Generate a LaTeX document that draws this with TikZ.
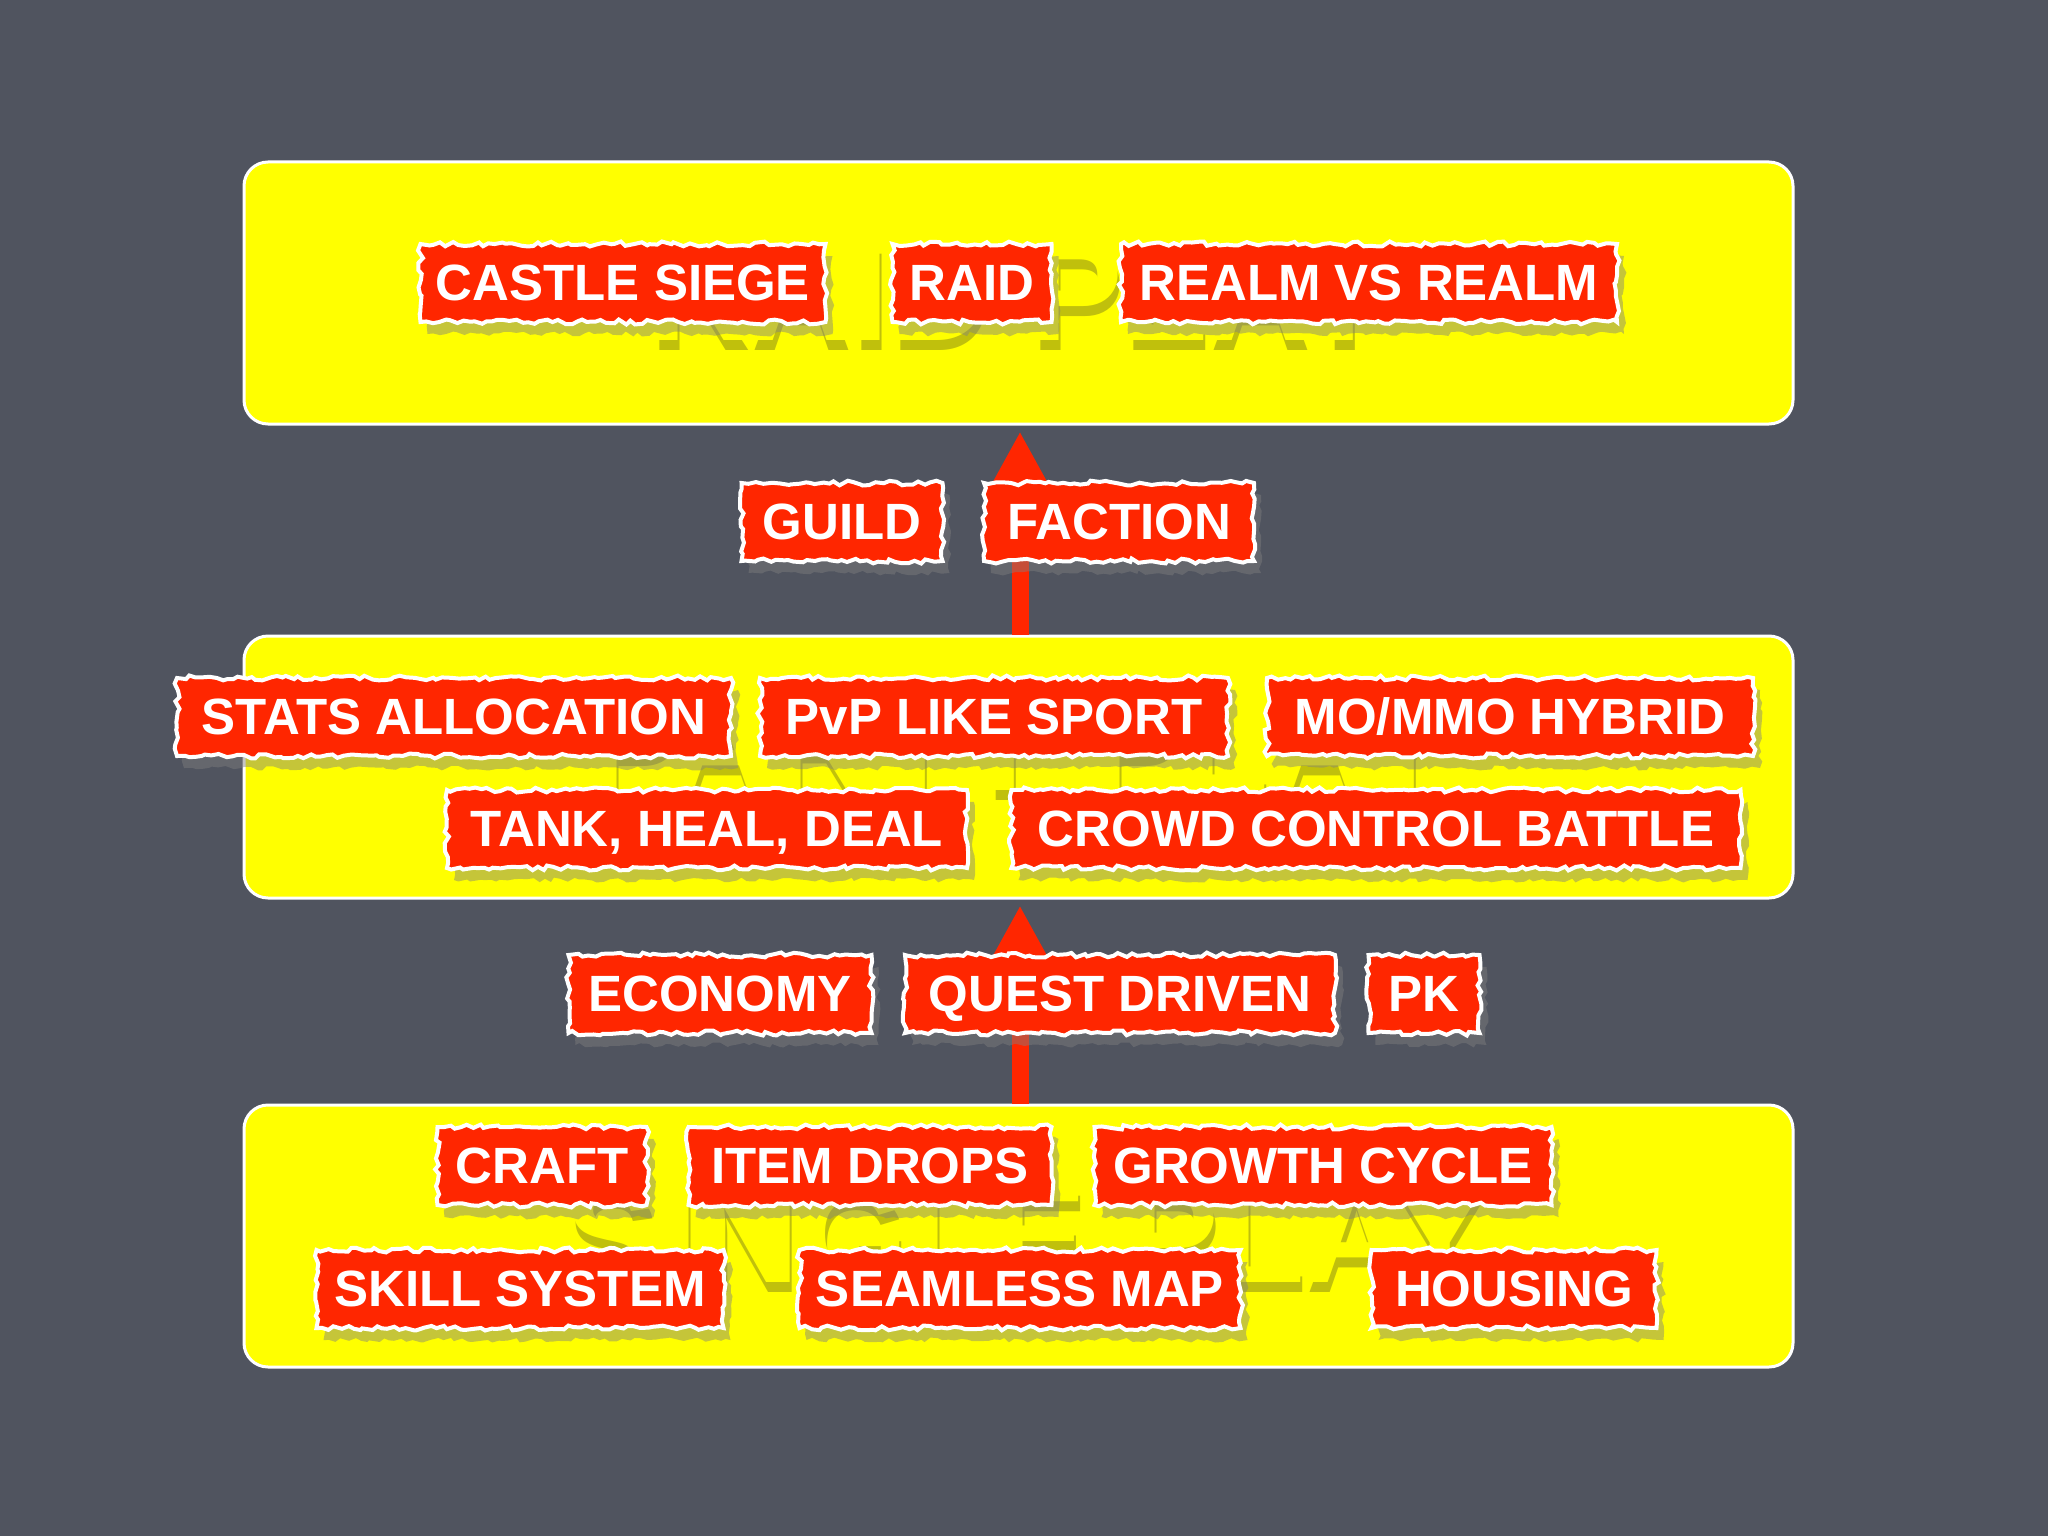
\documentclass[tikz,border=0pt]{standalone}
\usepackage{fontspec}
\setmainfont{Liberation Sans}
\usetikzlibrary{shadows,decorations.pathmorphing,arrows.meta}
\definecolor{board}{RGB}{80,84,95}
\definecolor{paper}{RGB}{255,38,0}
\definecolor{hilite}{RGB}{255,255,0}
\definecolor{ghostdark}{RGB}{150,150,20}
\begin{document}
\begin{tikzpicture}[x=1pt,y=-1pt,
  layer/.style={fill=hilite, draw=white, line width=3pt, rounded corners=24pt,
    minimum width=1549pt, minimum height=262pt, inner sep=0pt},
  tag/.style={fill=paper, draw=white, line width=4pt, text=white,
    font=\fontsize{51}{51}\selectfont\bfseries, minimum height=78pt,
    text height=37pt, text depth=2pt,
    inner xsep=8pt, decorate,
    decoration={random steps, segment length=6pt, amplitude=2.5pt},
    drop shadow={shadow xshift=7pt, shadow yshift=-12pt, opacity=0.45}},
  ghost/.style={font=\fontsize{140}{140}\selectfont\bfseries, text=hilite,
    anchor=base, inner sep=0pt},
  ghostshade/.style={ghost, text=ghostdark, opacity=0.6},
  uparrow/.style={draw=paper, line width=17pt,
    -{Triangle[length=52pt,width=52pt]}}]
\pgfmathsetseed{7}
\useasboundingbox (0,0) rectangle (2048,1536);
\fill[board] (0,0) rectangle (2048,1536);

% layer boxes
\node[layer] (raidbox) at (1018.5,293) {};
\node[layer] (partybox) at (1018.5,767) {};
\node[layer] (singlebox) at (1018.5,1236) {};

% arrows
\draw[uparrow] ([xshift=1.5pt]partybox.north) -- ([xshift=1.5pt,yshift=-6pt]raidbox.south);
\draw[uparrow] ([xshift=1.5pt]singlebox.north) -- ([xshift=1.5pt,yshift=-6pt]partybox.south);

% ghost titles
\node[ghostshade] (raidshade) at (1021,350) {RAID PLAY};
\node[ghost] (raidtitle) at (1019,340) {RAID PLAY};
\node[ghostshade] (partyshade) at (1021,800) {PARTY PLAY};
\node[ghost] (partytitle) at (1019,790) {PARTY PLAY};
\node[ghostshade] (singleshade) at (1028,1292) {SINGLE PLAY};
\node[ghost] (singletitle) at (1026,1282) {SINGLE PLAY};

% raid play tags
\node[tag, minimum width=405pt] (castle) at (623,283) {CASTLE SIEGE};
\node[tag, minimum width=159pt] (raid) at (972,283) {RAID};
\node[tag, minimum width=496pt] (realm) at (1369,283) {REALM VS REALM};

% between raid and party
\node[tag, minimum width=201pt] (guild) at (842,522) {GUILD};
\node[tag, minimum width=270pt] (faction) at (1119,522) {FACTION};

% party play tags
\node[tag, minimum width=554pt] (stats) at (454,717) {STATS ALLOCATION};
\node[tag, minimum width=468pt] (pvp) at (994,717) {PvP LIKE SPORT};
\node[tag, minimum width=486pt] (hybrid) at (1510,717) {MO/MMO HYBRID};
\node[tag, minimum width=520pt] (tank) at (707,829) {TANK, HEAL, DEAL};
\node[tag, minimum width=729pt] (crowd) at (1376,829) {CROWD CONTROL BATTLE};

% between party and single
\node[tag, minimum width=303pt] (economy) at (720,994) {ECONOMY};
\node[tag, minimum width=430pt] (quest) at (1120,994) {QUEST DRIVEN};
\node[tag, minimum width=111pt] (pk) at (1424,994) {PK};

% single play tags
\node[tag, minimum width=209pt] (craft) at (542,1166) {CRAFT};
\node[tag, minimum width=363pt] (drops) at (870,1166) {ITEM DROPS};
\node[tag, minimum width=457pt] (growth) at (1323,1166) {GROWTH CYCLE};
\node[tag, minimum width=407pt] (skill) at (520,1289) {SKILL SYSTEM};
\node[tag, minimum width=441pt] (seamless) at (1020,1289) {SEAMLESS MAP};
\node[tag, minimum width=285pt] (housing) at (1514,1289) {HOUSING};
\end{tikzpicture}
\end{document}
